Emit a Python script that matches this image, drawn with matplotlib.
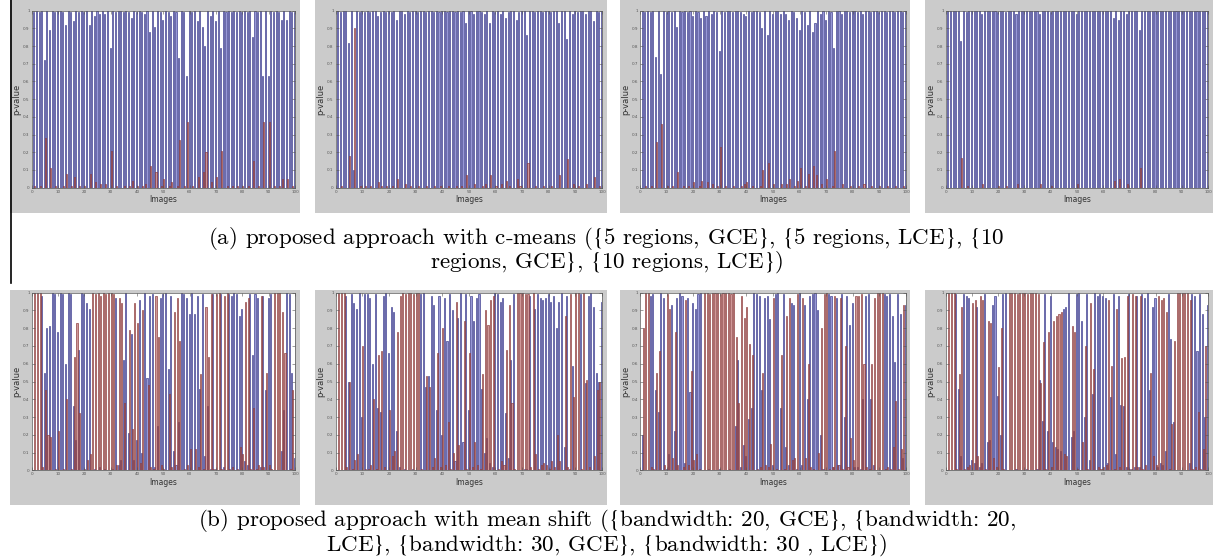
import numpy as np
import matplotlib
matplotlib.use("Agg")
import matplotlib.pyplot as plt
from matplotlib.patches import Rectangle
from matplotlib.lines import Line2D

# === DATEN: p-Werte pro Bild (Serie 1 = blau, Serie 2 = rot) ===
images = list(range(1, 101))
xticks = [0, 10, 20, 30, 40, 50, 60, 70, 80, 90, 100]
yticks = [0, 0.1, 0.2, 0.3, 0.4, 0.5, 0.6, 0.7, 0.8, 0.9, 1]
ytick_labels = ["0", "0.1", "0.2", "0.3", "0.4", "0.5", "0.6", "0.7", "0.8", "0.9", "1"]

# (a) c-means
a1_blue = [0.99, 1.00, 0.99, 1.00, 0.72, 1.00, 0.89, 1.00, 0.99, 1.00,
           1.00, 0.99, 0.92, 1.00, 0.99, 0.94, 1.00, 0.99, 1.00, 0.99,
           1.00, 0.92, 1.00, 0.97, 1.00, 0.98, 1.00, 0.98, 1.00, 0.79,
           1.00, 0.99, 1.00, 1.00, 0.99, 1.00, 0.99, 0.96, 1.00, 0.99,
           1.00, 0.99, 0.98, 1.00, 0.88, 1.00, 0.91, 1.00, 0.99, 0.95,
           1.00, 0.99, 0.97, 1.00, 0.99, 0.73, 1.00, 0.99, 0.63, 1.00,
           0.99, 1.00, 0.94, 1.00, 0.91, 0.80, 1.00, 0.97, 1.00, 0.94,
           1.00, 0.79, 1.00, 0.99, 1.00, 0.99, 1.00, 0.99, 1.00, 0.99,
           1.00, 0.99, 1.00, 0.85, 1.00, 0.99, 1.00, 0.63, 1.00, 0.63,
           1.00, 0.99, 1.00, 0.99, 0.95, 1.00, 0.95, 1.00, 0.99, 0.99]
a1_red = [0.01, 0.00, 0.01, 0.00, 0.28, 0.00, 0.11, 0.00, 0.01, 0.00,
          0.00, 0.01, 0.08, 0.00, 0.01, 0.06, 0.00, 0.01, 0.00, 0.01,
          0.00, 0.08, 0.00, 0.03, 0.00, 0.02, 0.00, 0.02, 0.00, 0.21,
          0.00, 0.01, 0.00, 0.00, 0.01, 0.00, 0.01, 0.04, 0.00, 0.01,
          0.00, 0.01, 0.02, 0.00, 0.12, 0.00, 0.09, 0.00, 0.01, 0.05,
          0.00, 0.01, 0.03, 0.00, 0.01, 0.27, 0.00, 0.01, 0.37, 0.00,
          0.01, 0.00, 0.06, 0.00, 0.09, 0.20, 0.00, 0.03, 0.00, 0.06,
          0.00, 0.21, 0.00, 0.01, 0.00, 0.01, 0.00, 0.01, 0.00, 0.01,
          0.00, 0.01, 0.00, 0.15, 0.00, 0.01, 0.00, 0.37, 0.00, 0.37,
          0.00, 0.01, 0.00, 0.01, 0.05, 0.00, 0.05, 0.00, 0.01, 0.01]

a2_blue = [1.00, 0.99, 1.00, 1.00, 0.82, 1.00, 0.10, 1.00, 0.99, 1.00,
           0.99, 1.00, 0.99, 1.00, 1.00, 0.97, 0.99, 1.00, 0.99, 1.00,
           0.99, 1.00, 0.95, 1.00, 1.00, 0.98, 1.00, 0.99, 1.00, 1.00,
           0.99, 1.00, 1.00, 0.99, 1.00, 1.00, 0.99, 1.00, 0.99, 1.00,
           1.00, 0.99, 1.00, 1.00, 0.99, 1.00, 0.99, 1.00, 0.93, 1.00,
           1.00, 0.98, 1.00, 1.00, 0.99, 0.98, 1.00, 0.93, 1.00, 0.99,
           1.00, 0.98, 1.00, 0.96, 0.99, 1.00, 1.00, 0.95, 0.99, 1.00,
           1.00, 0.86, 1.00, 1.00, 0.99, 1.00, 1.00, 0.99, 1.00, 1.00,
           0.99, 1.00, 1.00, 0.93, 1.00, 1.00, 0.84, 1.00, 0.98, 1.00,
           0.99, 1.00, 1.00, 0.98, 1.00, 1.00, 0.94, 1.00, 0.99, 1.00]
a2_red = [0.00, 0.01, 0.00, 0.00, 0.18, 0.00, 0.90, 0.00, 0.01, 0.00,
          0.01, 0.00, 0.01, 0.00, 0.00, 0.03, 0.01, 0.00, 0.01, 0.00,
          0.01, 0.00, 0.05, 0.00, 0.00, 0.02, 0.00, 0.01, 0.00, 0.00,
          0.01, 0.00, 0.00, 0.01, 0.00, 0.00, 0.01, 0.00, 0.01, 0.00,
          0.00, 0.01, 0.00, 0.00, 0.01, 0.00, 0.01, 0.00, 0.07, 0.00,
          0.00, 0.02, 0.00, 0.00, 0.01, 0.02, 0.00, 0.07, 0.00, 0.01,
          0.00, 0.02, 0.00, 0.04, 0.01, 0.00, 0.00, 0.05, 0.01, 0.00,
          0.00, 0.14, 0.00, 0.00, 0.01, 0.00, 0.00, 0.01, 0.00, 0.00,
          0.01, 0.00, 0.00, 0.07, 0.00, 0.00, 0.16, 0.00, 0.02, 0.00,
          0.01, 0.00, 0.00, 0.02, 0.00, 0.00, 0.06, 0.00, 0.01, 0.00]

a3_blue = [1.00, 0.99, 1.00, 0.99, 1.00, 0.74, 1.00, 0.64, 1.00, 0.99,
           1.00, 0.99, 1.00, 0.91, 1.00, 0.99, 1.00, 0.99, 1.00, 0.97,
           1.00, 0.99, 0.96, 1.00, 0.97, 1.00, 0.98, 1.00, 0.99, 0.77,
           1.00, 0.99, 1.00, 1.00, 0.99, 1.00, 1.00, 0.99, 0.98, 0.97,
           1.00, 0.99, 1.00, 1.00, 0.99, 0.90, 1.00, 0.86, 1.00, 0.98,
           1.00, 1.00, 0.98, 1.00, 0.98, 0.95, 1.00, 0.99, 0.96, 0.89,
           1.00, 0.99, 0.92, 1.00, 0.88, 0.93, 1.00, 0.98, 1.00, 0.95,
           1.00, 0.99, 0.79, 1.00, 1.00, 0.98, 1.00, 1.00, 0.99, 1.00,
           1.00, 0.99, 1.00, 0.98, 1.00, 1.00, 0.99, 1.00, 1.00, 0.99,
           1.00, 1.00, 0.99, 1.00, 1.00, 0.99, 1.00, 1.00, 0.99, 1.00]
a3_red = [0.00, 0.01, 0.00, 0.01, 0.00, 0.26, 0.00, 0.36, 0.00, 0.01,
          0.00, 0.01, 0.00, 0.09, 0.00, 0.01, 0.00, 0.01, 0.00, 0.03,
          0.00, 0.01, 0.04, 0.00, 0.03, 0.00, 0.02, 0.00, 0.01, 0.23,
          0.00, 0.01, 0.00, 0.00, 0.01, 0.00, 0.00, 0.01, 0.02, 0.03,
          0.00, 0.01, 0.00, 0.00, 0.01, 0.10, 0.00, 0.14, 0.00, 0.02,
          0.00, 0.00, 0.02, 0.00, 0.02, 0.05, 0.00, 0.01, 0.04, 0.11,
          0.00, 0.01, 0.08, 0.00, 0.12, 0.07, 0.00, 0.02, 0.00, 0.05,
          0.00, 0.01, 0.21, 0.00, 0.00, 0.02, 0.00, 0.00, 0.01, 0.00,
          0.00, 0.01, 0.00, 0.02, 0.00, 0.00, 0.01, 0.00, 0.00, 0.01,
          0.00, 0.00, 0.01, 0.00, 0.00, 0.01, 0.00, 0.00, 0.01, 0.00]

a4_blue = [1.00, 1.00, 1.00, 1.00, 1.00, 0.83, 1.00, 0.99, 1.00, 1.00,
           1.00, 1.00, 1.00, 0.98, 1.00, 1.00, 1.00, 1.00, 1.00, 0.99,
           1.00, 1.00, 0.99, 1.00, 1.00, 1.00, 0.98, 1.00, 1.00, 1.00,
           1.00, 1.00, 1.00, 1.00, 1.00, 0.98, 1.00, 1.00, 1.00, 0.99,
           1.00, 1.00, 1.00, 1.00, 1.00, 1.00, 1.00, 1.00, 1.00, 0.98,
           1.00, 1.00, 1.00, 1.00, 1.00, 1.00, 1.00, 1.00, 1.00, 1.00,
           1.00, 1.00, 1.00, 0.96, 1.00, 0.95, 1.00, 1.00, 0.98, 1.00,
           1.00, 1.00, 1.00, 0.89, 1.00, 1.00, 1.00, 1.00, 1.00, 1.00,
           1.00, 1.00, 1.00, 1.00, 1.00, 1.00, 1.00, 1.00, 1.00, 1.00,
           1.00, 1.00, 1.00, 1.00, 1.00, 1.00, 1.00, 1.00, 1.00, 1.00]
a4_red = [0.00, 0.00, 0.00, 0.00, 0.00, 0.17, 0.00, 0.01, 0.00, 0.00,
          0.00, 0.00, 0.00, 0.02, 0.00, 0.00, 0.00, 0.00, 0.00, 0.01,
          0.00, 0.00, 0.01, 0.00, 0.00, 0.00, 0.02, 0.00, 0.00, 0.00,
          0.00, 0.00, 0.00, 0.00, 0.00, 0.02, 0.00, 0.00, 0.00, 0.01,
          0.00, 0.00, 0.00, 0.00, 0.00, 0.00, 0.00, 0.00, 0.00, 0.02,
          0.00, 0.00, 0.00, 0.00, 0.00, 0.00, 0.00, 0.00, 0.00, 0.00,
          0.00, 0.00, 0.00, 0.04, 0.00, 0.05, 0.00, 0.00, 0.02, 0.00,
          0.00, 0.00, 0.00, 0.11, 0.00, 0.00, 0.00, 0.00, 0.00, 0.00,
          0.00, 0.00, 0.00, 0.00, 0.00, 0.00, 0.00, 0.00, 0.00, 0.00,
          0.00, 0.00, 0.00, 0.00, 0.00, 0.00, 0.00, 0.00, 0.00, 0.00]

# (b) mean shift
b1_blue = [0.00, 0.00, 0.00, 0.98, 0.55, 0.80, 0.81, 1.00, 0.99, 0.78,
           1.00, 0.99, 0.60, 1.00, 0.99, 0.36, 0.17, 0.68, 1.00, 0.99,
           0.94, 0.91, 0.00, 0.01, 0.00, 0.02, 0.00, 0.01, 0.00, 0.00,
           0.01, 0.97, 0.03, 0.06, 0.62, 1.00, 0.21, 0.77, 0.06, 0.17,
           0.96, 0.10, 1.00, 0.52, 0.98, 0.99, 0.02, 0.25, 0.97, 0.99,
           1.00, 0.57, 0.98, 0.11, 0.03, 0.27, 1.00, 0.99, 0.97, 0.88,
           1.00, 0.88, 0.98, 0.46, 0.99, 0.08, 0.36, 0.01, 0.99, 0.01,
           0.00, 0.99, 0.02, 0.00, 0.99, 0.98, 1.00, 0.99, 0.87, 0.91,
           0.05, 0.03, 0.99, 0.65, 0.99, 0.97, 0.02, 0.98, 0.45, 0.97,
           0.99, 0.00, 0.00, 0.00, 0.11, 0.34, 1.00, 0.99, 0.55, 0.07]
b1_red = [1.00, 1.00, 1.00, 0.02, 0.45, 0.20, 0.19, 0.00, 0.01, 0.22,
          0.00, 0.01, 0.40, 0.00, 0.01, 0.64, 0.83, 0.32, 0.00, 0.01,
          0.06, 0.09, 1.00, 0.99, 1.00, 0.98, 1.00, 0.99, 1.00, 1.00,
          0.99, 0.03, 0.97, 0.94, 0.38, 0.00, 0.79, 0.23, 0.94, 0.83,
          0.04, 0.90, 0.00, 0.48, 0.02, 0.01, 0.98, 0.75, 0.03, 0.01,
          0.00, 0.43, 0.02, 0.89, 0.97, 0.73, 0.00, 0.01, 0.03, 0.12,
          0.00, 0.12, 0.02, 0.54, 0.01, 0.92, 0.64, 0.99, 0.01, 0.99,
          1.00, 0.01, 0.98, 1.00, 0.01, 0.02, 0.00, 0.01, 0.13, 0.09,
          0.95, 0.97, 0.01, 0.35, 0.01, 0.03, 0.98, 0.02, 0.55, 0.03,
          0.01, 1.00, 1.00, 1.00, 0.89, 0.66, 0.00, 0.01, 0.45, 0.93]

b2_blue = [0.00, 0.00, 0.00, 0.98, 0.50, 0.99, 0.94, 0.91, 1.00, 0.30,
           0.99, 0.99, 0.97, 0.60, 0.99, 0.35, 0.33, 0.98, 1.00, 0.66,
           0.92, 0.89, 0.22, 0.02, 0.00, 0.01, 0.00, 0.00, 0.01, 0.00,
           0.00, 0.99, 1.00, 0.47, 0.53, 0.98, 0.93, 0.34, 0.98, 0.20,
           0.97, 0.73, 0.99, 0.90, 0.05, 0.86, 1.00, 0.16, 0.99, 0.34,
           0.98, 0.84, 0.97, 0.99, 0.46, 0.10, 0.18, 0.04, 0.02, 1.00,
           0.99, 0.95, 0.97, 0.32, 0.07, 0.62, 0.99, 0.00, 0.00, 0.00,
           0.01, 0.01, 0.98, 0.00, 0.91, 0.99, 0.97, 0.96, 0.97, 0.99,
           0.95, 0.98, 0.80, 0.95, 1.00, 0.13, 0.98, 0.01, 0.59, 0.00,
           0.00, 0.99, 0.00, 0.49, 0.98, 1.00, 0.92, 0.55, 0.50, 0.95]
b2_red = [1.00, 1.00, 1.00, 0.02, 0.50, 0.01, 0.06, 0.09, 0.00, 0.70,
          0.01, 0.01, 0.03, 0.40, 0.01, 0.65, 0.67, 0.02, 0.00, 0.34,
          0.08, 0.11, 0.78, 0.98, 1.00, 0.99, 1.00, 1.00, 0.99, 1.00,
          1.00, 0.01, 0.00, 0.53, 0.47, 0.02, 0.07, 0.66, 0.02, 0.80,
          0.03, 0.27, 0.01, 0.10, 0.95, 0.14, 0.00, 0.84, 0.01, 0.66,
          0.02, 0.16, 0.03, 0.01, 0.54, 0.90, 0.82, 0.96, 0.98, 0.00,
          0.01, 0.05, 0.03, 0.68, 0.93, 0.38, 0.01, 1.00, 1.00, 1.00,
          0.99, 0.99, 0.02, 1.00, 0.09, 0.01, 0.03, 0.04, 0.03, 0.01,
          0.05, 0.02, 0.20, 0.05, 0.00, 0.87, 0.02, 0.99, 0.41, 1.00,
          1.00, 0.01, 1.00, 0.51, 0.02, 0.00, 0.08, 0.45, 0.50, 0.05]

b3_blue = [0.20, 0.00, 0.00, 0.98, 0.99, 0.45, 0.33, 1.00, 0.97, 0.01,
           0.09, 0.93, 0.22, 0.97, 1.00, 0.98, 0.04, 0.97, 0.44, 0.94,
           0.91, 0.99, 1.00, 0.00, 0.00, 0.01, 0.00, 0.00, 0.00, 0.01,
           0.00, 0.00, 0.00, 0.01, 0.00, 0.25, 0.62, 0.02, 0.14, 0.08,
           0.29, 0.35, 1.00, 0.99, 0.98, 0.45, 0.97, 0.98, 0.85, 0.03,
           0.99, 1.00, 0.35, 0.99, 0.13, 0.03, 0.94, 0.93, 0.01, 1.00,
           0.03, 0.93, 0.40, 0.98, 0.99, 1.00, 0.90, 0.20, 0.01, 0.00,
           0.99, 0.98, 0.02, 0.97, 0.03, 0.99, 0.30, 0.98, 0.82, 0.94,
           0.02, 0.02, 0.01, 0.40, 0.98, 0.99, 0.40, 0.03, 0.00, 0.00,
           0.00, 0.99, 0.98, 0.99, 0.87, 0.61, 0.99, 0.88, 0.07, 0.93]
b3_red = [0.80, 1.00, 1.00, 0.02, 0.01, 0.55, 0.67, 0.00, 0.03, 0.99,
          0.91, 0.07, 0.78, 0.03, 0.00, 0.02, 0.96, 0.03, 0.56, 0.06,
          0.09, 0.01, 0.00, 1.00, 1.00, 0.99, 1.00, 1.00, 1.00, 0.99,
          1.00, 1.00, 1.00, 0.99, 1.00, 0.75, 0.38, 0.98, 0.86, 0.92,
          0.71, 0.65, 0.00, 0.01, 0.02, 0.55, 0.03, 0.02, 0.15, 0.97,
          0.01, 0.00, 0.65, 0.01, 0.87, 0.97, 0.06, 0.07, 0.99, 0.00,
          0.97, 0.07, 0.60, 0.02, 0.01, 0.00, 0.10, 0.80, 0.99, 1.00,
          0.01, 0.02, 0.98, 0.03, 0.97, 0.01, 0.70, 0.02, 0.18, 0.06,
          0.98, 0.98, 0.99, 0.60, 0.02, 0.01, 0.60, 0.97, 1.00, 1.00,
          1.00, 0.01, 0.02, 0.01, 0.13, 0.39, 0.01, 0.12, 0.93, 0.07]

b4_blue = [0.00, 0.00, 0.00, 0.99, 0.46, 0.08, 0.99, 0.98, 0.97, 0.06,
           0.04, 0.92, 0.02, 0.04, 0.99, 0.16, 0.17, 0.93, 0.98, 0.42,
           0.20, 0.99, 1.00, 0.00, 0.00, 0.00, 0.01, 0.00, 0.00, 0.00,
           0.01, 0.00, 0.00, 0.00, 0.01, 0.51, 0.28, 0.99, 0.22, 0.98,
           0.16, 0.13, 0.12, 0.11, 0.91, 0.92, 1.00, 0.19, 0.22, 0.99,
           1.00, 0.84, 0.30, 0.99, 0.06, 0.43, 1.00, 0.98, 0.99, 0.98,
           0.97, 0.04, 0.41, 0.99, 0.09, 0.98, 0.37, 0.36, 0.02, 0.99,
           0.01, 0.02, 0.98, 0.02, 0.99, 0.97, 1.00, 0.45, 0.92, 0.97,
           0.02, 0.04, 0.03, 0.11, 0.99, 0.74, 0.27, 0.00, 0.00, 0.00,
           0.00, 0.00, 0.04, 0.99, 0.98, 0.67, 0.99, 0.88, 0.30, 0.93]
b4_red = [1.00, 1.00, 1.00, 0.01, 0.54, 0.92, 0.01, 0.02, 0.03, 0.94,
          0.96, 0.08, 0.98, 0.96, 0.01, 0.84, 0.83, 0.07, 0.02, 0.58,
          0.80, 0.01, 0.00, 1.00, 1.00, 1.00, 0.99, 1.00, 1.00, 1.00,
          0.99, 1.00, 1.00, 1.00, 0.99, 0.49, 0.72, 0.01, 0.78, 0.02,
          0.84, 0.87, 0.88, 0.89, 0.09, 0.08, 0.00, 0.81, 0.78, 0.01,
          0.00, 0.16, 0.70, 0.01, 0.94, 0.57, 0.00, 0.02, 0.01, 0.02,
          0.03, 0.96, 0.59, 0.01, 0.91, 0.02, 0.63, 0.64, 0.98, 0.01,
          0.99, 0.98, 0.02, 0.98, 0.01, 0.03, 0.00, 0.55, 0.08, 0.03,
          0.98, 0.96, 0.97, 0.89, 0.01, 0.26, 0.73, 1.00, 1.00, 1.00,
          1.00, 1.00, 0.96, 0.01, 0.02, 0.33, 0.01, 0.12, 0.70, 0.07]

caption_a = [r"(a) proposed approach with c-means ($\{$5 regions, GCE$\}$, $\{$5 regions, LCE$\}$, $\{$10",
             r"regions, GCE$\}$, $\{$10 regions, LCE$\}$)"]
caption_b = [r"(b) proposed approach with mean shift ($\{$bandwidth: 20, GCE$\}$, $\{$bandwidth: 20,",
             r"LCE$\}$, $\{$bandwidth: 30, GCE$\}$, $\{$bandwidth: 30 , LCE$\}$)"]

# === LAYOUT (Pixel) ===
W, H = 1213, 560
plt.rcParams['mathtext.fontset'] = 'stix'
fig = plt.figure(figsize=(W / 100, H / 100), dpi=100)
fig.patch.set_facecolor('white')


def frac(x0, y0, x1, y1):
    return [x0 / W, 1 - y1 / H, (x1 - x0) / W, (y1 - y0) / H]


panel_x = [(10, 300), (315, 607), (620, 910), (925, 1213)]
axes_x = [(31.7, 295), (335.7, 602), (640, 906), (945.7, 1208)]
rows = [
    {"gray": (0, 213), "ax": (10.7, 187.7), "data": [(a1_blue, a1_red), (a2_blue, a2_red), (a3_blue, a3_red), (a4_blue, a4_red)]},
    {"gray": (290, 505), "ax": (292.7, 470.3), "data": [(b1_blue, b1_red), (b2_blue, b2_red), (b3_blue, b3_red), (b4_blue, b4_red)]},
]

blue_face, blue_edge = '#9898d6', '#22227c'
red_face, red_edge = '#cf9898', '#7c2222'
x = np.array(images)

for row in rows:
    gy0, gy1 = row["gray"]
    ay0, ay1 = row["ax"]
    for (px0, px1), (ax0, ax1), (blue, red) in zip(panel_x, axes_x, row["data"]):
        # grauer MATLAB-Hintergrund
        fig.add_artist(Rectangle((px0 / W, 1 - gy1 / H), (px1 - px0) / W, (gy1 - gy0) / H,
                                 transform=fig.transFigure, facecolor='#cbcbcb', edgecolor='none', zorder=0))
        ax = fig.add_axes(frac(ax0, ay0, ax1, ay1))
        ax.set_zorder(2)
        ax.bar(x - 0.2, blue, width=0.4, color=blue_face, edgecolor=blue_edge, linewidth=0.4)
        ax.bar(x + 0.2, red, width=0.4, color=red_face, edgecolor=red_edge, linewidth=0.4)
        ax.set_xlim(0, 100)
        ax.set_ylim(0, 1)
        ax.set_xticks(xticks)
        ax.set_xticklabels([str(t) for t in xticks])
        ax.set_yticks(yticks)
        ax.set_yticklabels(ytick_labels)
        ax.tick_params(direction='in', length=2, width=0.4, labelsize=3, pad=1.5,
                       top=True, right=True, colors='#555555')
        for s in ax.spines.values():
            s.set_linewidth(0.5)
            s.set_color('#555555')
        ax.set_xlabel('Images', fontsize=5.5, labelpad=1, color='#333333')
        ax.set_ylabel('p-value', fontsize=6, labelpad=1, color='#333333')

# === Bildunterschriften ===
for text, ypix in zip(caption_a, [238, 262]):
    fig.text(0.5, 1 - ypix / H, text, ha='center', va='center', fontsize=16.6, family='cmr10')
for text, ypix in zip(caption_b, [521, 545]):
    fig.text(0.5, 1 - ypix / H, text, ha='center', va='center', fontsize=16.6, family='cmr10')

# vertikale Linie am linken Rand
fig.add_artist(Line2D([10.5 / W, 10.5 / W], [1, 1 - 283 / H], transform=fig.transFigure,
                      color='black', linewidth=1.2))

plt.savefig('out.png', dpi=100)
